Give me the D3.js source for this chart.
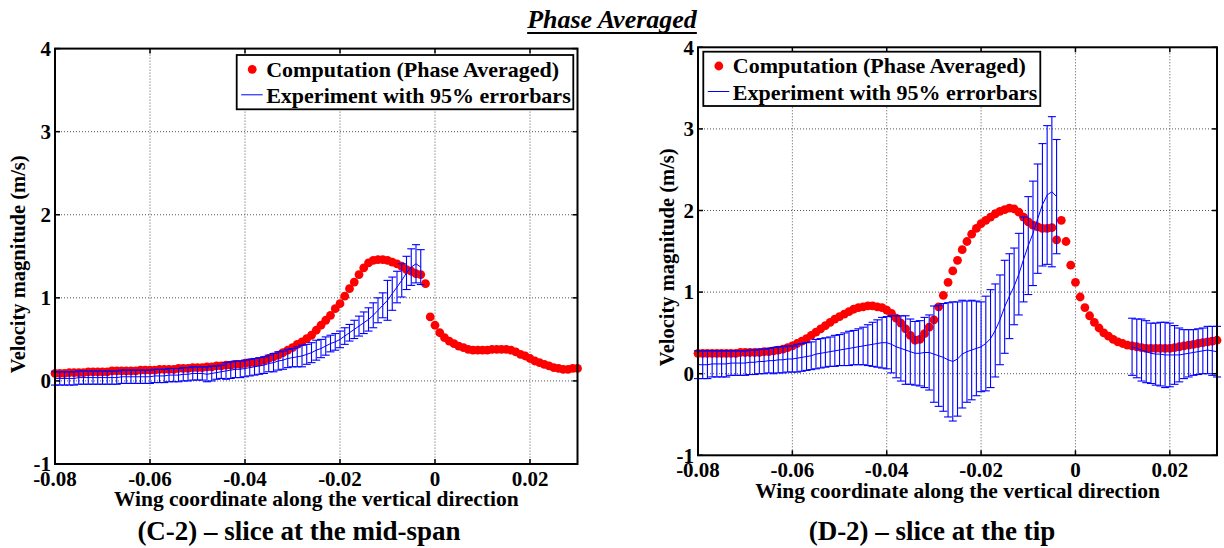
<!DOCTYPE html>
<html>
<head>
<meta charset="utf-8">
<script src="https://cdn.jsdelivr.net/npm/d3@7"></script>
<style>
  body { margin: 0; background: #fff; }
  svg { display: block; }
</style>
</head>
<body>
<svg id="fig" width="1224" height="548"></svg>
<script>
// Axis ticks
const xTicks = [-0.08, -0.06, -0.04, -0.02, 0, 0.02];
const yTicks = [-1, 0, 1, 2, 3, 4];

// Computation grid (same for both slices)
const compX = [
  -0.080, -0.079, -0.078, -0.077, -0.076, -0.075, -0.074, -0.073, -0.072, -0.071,
  -0.070, -0.069, -0.068, -0.067, -0.066, -0.065, -0.064, -0.063, -0.062, -0.061,
  -0.060, -0.059, -0.058, -0.057, -0.056, -0.055, -0.054, -0.053, -0.052, -0.051,
  -0.050, -0.049, -0.048, -0.047, -0.046, -0.045, -0.044, -0.043, -0.042, -0.041,
  -0.040, -0.039, -0.038, -0.037, -0.036, -0.035, -0.034, -0.033, -0.032, -0.031,
  -0.030, -0.029, -0.028, -0.027, -0.026, -0.025, -0.024, -0.023, -0.022, -0.021,
  -0.020, -0.019, -0.018, -0.017, -0.016, -0.015, -0.014, -0.013, -0.012, -0.011,
  -0.010, -0.009, -0.008, -0.007, -0.006, -0.005, -0.004, -0.003, -0.002, -0.001,
  0.000, 0.001, 0.002, 0.003, 0.004, 0.005, 0.006, 0.007, 0.008, 0.009,
  0.010, 0.011, 0.012, 0.013, 0.014, 0.015, 0.016, 0.017, 0.018, 0.019,
  0.020, 0.021, 0.022, 0.023, 0.024, 0.025, 0.026, 0.027, 0.028, 0.029, 0.030
];

// (C-2) mid-span
const midCompV = [
  0.09, 0.09, 0.09, 0.10, 0.10, 0.10, 0.10, 0.11, 0.11, 0.11,
  0.11, 0.11, 0.12, 0.12, 0.12, 0.12, 0.12, 0.12, 0.13, 0.13,
  0.13, 0.13, 0.14, 0.14, 0.14, 0.14, 0.15, 0.15, 0.15, 0.16,
  0.16, 0.16, 0.17, 0.17, 0.18, 0.18, 0.19, 0.19, 0.20, 0.20,
  0.21, 0.22, 0.22, 0.23, 0.25, 0.27, 0.29, 0.31, 0.34, 0.37,
  0.40, 0.44, 0.47, 0.51, 0.55, 0.61, 0.67, 0.73, 0.79, 0.87,
  0.93, 1.02, 1.11, 1.19, 1.28, 1.36, 1.42, 1.45, 1.46, 1.46,
  1.45, 1.43, 1.41, 1.38, 1.34, 1.32, 1.29, 1.28, 1.17, 0.77,
  0.67, 0.58, 0.52, 0.48, 0.45, 0.42, 0.40, 0.38, 0.37, 0.37,
  0.37, 0.37, 0.38, 0.38, 0.38, 0.38, 0.37, 0.35, 0.32, 0.30,
  0.27, 0.24, 0.22, 0.20, 0.18, 0.16, 0.15, 0.14, 0.14, 0.15, 0.15
];
const midExpX = [
  -0.080, -0.079, -0.078, -0.077, -0.076, -0.075, -0.074, -0.073, -0.072, -0.071,
  -0.070, -0.069, -0.068, -0.067, -0.066, -0.065, -0.064, -0.063, -0.062, -0.061,
  -0.060, -0.059, -0.058, -0.057, -0.056, -0.055, -0.054, -0.053, -0.052, -0.051,
  -0.050, -0.049, -0.048, -0.047, -0.046, -0.045, -0.044, -0.043, -0.042, -0.041,
  -0.040, -0.039, -0.038, -0.037, -0.036, -0.035, -0.034, -0.033, -0.032, -0.031,
  -0.030, -0.029, -0.028, -0.027, -0.026, -0.025, -0.024, -0.023, -0.022, -0.021,
  -0.020, -0.019, -0.018, -0.017, -0.016, -0.015, -0.014, -0.013, -0.012, -0.011,
  -0.010, -0.009, -0.008, -0.007, -0.006, -0.005, -0.004, -0.003
];
const midExpMean = [
  0.03, 0.03, 0.03, 0.03, 0.03, 0.04, 0.04, 0.04, 0.04, 0.04,
  0.04, 0.04, 0.04, 0.04, 0.05, 0.05, 0.05, 0.05, 0.05, 0.05,
  0.05, 0.06, 0.06, 0.06, 0.07, 0.07, 0.07, 0.08, 0.08, 0.09,
  0.09, 0.09, 0.08, 0.09, 0.10, 0.11, 0.12, 0.13, 0.14, 0.14,
  0.15, 0.16, 0.17, 0.18, 0.19, 0.21, 0.22, 0.24, 0.25, 0.27,
  0.28, 0.29, 0.30, 0.32, 0.34, 0.37, 0.39, 0.42, 0.45, 0.47,
  0.50, 0.54, 0.58, 0.62, 0.66, 0.70, 0.74, 0.79, 0.85, 0.91,
  0.97, 1.05, 1.13, 1.21, 1.30, 1.37, 1.41, 1.37
];
const midExpErr = [
  0.08, 0.08, 0.08, 0.08, 0.08, 0.08, 0.08, 0.08, 0.08, 0.08,
  0.08, 0.08, 0.08, 0.08, 0.08, 0.08, 0.08, 0.08, 0.08, 0.08,
  0.08, 0.08, 0.08, 0.08, 0.08, 0.08, 0.08, 0.08, 0.08, 0.08,
  0.08, 0.08, 0.09, 0.09, 0.08, 0.08, 0.10, 0.10, 0.10, 0.10,
  0.10, 0.10, 0.10, 0.10, 0.10, 0.10, 0.11, 0.11, 0.11, 0.11,
  0.11, 0.12, 0.13, 0.12, 0.12, 0.12, 0.11, 0.11, 0.10, 0.10,
  0.10, 0.10, 0.10, 0.11, 0.12, 0.13, 0.14, 0.15, 0.15, 0.15,
  0.24, 0.20, 0.19, 0.20, 0.20, 0.22, 0.23, 0.21
];

// (D-2) tip
const tipCompV = [
  0.25, 0.25, 0.25, 0.25, 0.25, 0.25, 0.25, 0.25, 0.25, 0.26,
  0.26, 0.26, 0.26, 0.26, 0.27, 0.27, 0.28, 0.29, 0.30, 0.32,
  0.34, 0.37, 0.40, 0.43, 0.47, 0.51, 0.55, 0.59, 0.63, 0.67,
  0.70, 0.73, 0.76, 0.79, 0.81, 0.82, 0.83, 0.83, 0.82, 0.81,
  0.78, 0.74, 0.68, 0.62, 0.55, 0.47, 0.41, 0.42, 0.49, 0.57,
  0.66, 0.82, 0.96, 1.12, 1.26, 1.39, 1.52, 1.62, 1.71, 1.78,
  1.84, 1.88, 1.92, 1.96, 1.99, 2.01, 2.03, 2.02, 1.98, 1.92,
  1.86, 1.82, 1.80, 1.78, 1.78, 1.79, 1.64, 1.88, 1.62, 1.33,
  1.12, 0.94, 0.81, 0.71, 0.63, 0.56, 0.50, 0.46, 0.42, 0.39,
  0.37, 0.35, 0.34, 0.33, 0.32, 0.31, 0.31, 0.31, 0.31, 0.31,
  0.31, 0.32, 0.33, 0.34, 0.35, 0.36, 0.37, 0.38, 0.39, 0.40, 0.41
];
const tipExpX = [
  -0.080, -0.079, -0.078, -0.077, -0.076, -0.075, -0.074, -0.073, -0.072, -0.071,
  -0.070, -0.069, -0.068, -0.067, -0.066, -0.065, -0.064, -0.063, -0.062, -0.061,
  -0.060, -0.059, -0.058, -0.057, -0.056, -0.055, -0.054, -0.053, -0.052, -0.051,
  -0.050, -0.049, -0.048, -0.047, -0.046, -0.045, -0.044, -0.043, -0.042, -0.041,
  -0.040, -0.039, -0.038, -0.037, -0.036, -0.035, -0.034, -0.033, -0.032, -0.031,
  -0.030, -0.029, -0.028, -0.027, -0.026, -0.025, -0.024, -0.023, -0.022, -0.021,
  -0.020, -0.019, -0.018, -0.017, -0.016, -0.015, -0.014, -0.013, -0.012, -0.011,
  -0.010, -0.009, -0.008, -0.007, -0.006, -0.005, -0.004,
  0.012, 0.013, 0.014, 0.015, 0.016, 0.017, 0.018, 0.019, 0.020, 0.021,
  0.022, 0.023, 0.024, 0.025, 0.026, 0.027, 0.028, 0.029, 0.030
];
const tipExpMean = [
  0.11, 0.11, 0.11, 0.12, 0.12, 0.12, 0.12, 0.13, 0.13, 0.13,
  0.13, 0.14, 0.14, 0.15, 0.15, 0.16, 0.16, 0.17, 0.17, 0.18,
  0.18, 0.19, 0.20, 0.21, 0.22, 0.24, 0.25, 0.26, 0.27, 0.28,
  0.29, 0.30, 0.31, 0.32, 0.33, 0.34, 0.35, 0.36, 0.37, 0.38,
  0.38, 0.36, 0.33, 0.31, 0.29, 0.27, 0.25, 0.25, 0.26, 0.26,
  0.24, 0.22, 0.20, 0.17, 0.15, 0.18, 0.24, 0.27, 0.29, 0.31,
  0.33, 0.37, 0.43, 0.53, 0.66, 0.82, 0.95, 1.07, 1.22, 1.40,
  1.57, 1.72, 1.90, 2.07, 2.19, 2.23, 2.17,
  0.33, 0.31, 0.29, 0.27, 0.25, 0.24, 0.24, 0.23, 0.23, 0.23,
  0.23, 0.24, 0.25, 0.26, 0.27, 0.28, 0.29, 0.28, 0.27
];
const tipExpErr = [
  0.17, 0.17, 0.17, 0.16, 0.16, 0.16, 0.16, 0.15, 0.15, 0.15,
  0.15, 0.15, 0.15, 0.15, 0.15, 0.15, 0.16, 0.16, 0.16, 0.16,
  0.16, 0.17, 0.17, 0.17, 0.17, 0.18, 0.18, 0.18, 0.18, 0.19,
  0.19, 0.20, 0.21, 0.21, 0.22, 0.23, 0.25, 0.27, 0.29, 0.31,
  0.32, 0.35, 0.38, 0.40, 0.42, 0.40, 0.39, 0.40, 0.43, 0.46,
  0.59, 0.62, 0.66, 0.70, 0.73, 0.70, 0.66, 0.62, 0.61, 0.58,
  0.55, 0.58, 0.60, 0.57, 0.55, 0.57, 0.52, 0.47, 0.50, 0.52,
  0.60, 0.64, 0.67, 0.75, 0.85, 0.92, 0.70,
  0.35, 0.36, 0.38, 0.38, 0.37, 0.38, 0.39, 0.40, 0.39, 0.36,
  0.33, 0.30, 0.29, 0.28, 0.28, 0.28, 0.29, 0.30, 0.31
];

const legendLabels = ["Computation (Phase Averaged)", "Experiment with 95% errorbars"];
const xLabel = "Wing coordinate along the vertical direction";
const yLabel = "Velocity magnitude (m/s)";

const serif = "'Liberation Serif', 'Times New Roman', Tinos, 'Nimbus Roman', 'DejaVu Serif', serif";
const svg = d3.select("#fig")
    .attr("font-family", serif)
    .attr("font-weight", "bold");

function txt(sel) {
    return sel.attr("font-family", serif).attr("font-weight", "bold").attr("fill", "#000");
}

// Title
const title = txt(svg.append("text"))
    .attr("x", 612)
    .attr("y", 28)
    .attr("text-anchor", "middle")
    .attr("font-size", 26)
    .attr("font-style", "italic")
    .text("Phase Averaged");
const tw = title.node().getComputedTextLength();
svg.append("line")
    .attr("x1", 612 - tw / 2).attr("x2", 612 + tw / 2)
    .attr("y1", 33).attr("y2", 33)
    .attr("stroke", "#000").attr("stroke-width", 2);

const panels = [
    {
        box: { left: 55, right: 577.5, top: 48.6, bottom: 464 },
        compV: midCompV, expX: midExpX, expMean: midExpMean, expErr: midExpErr,
        legend: { x: 236.7, y: 55, w: 336.6, h: 54.3 },
        caption: "(C-2) \u2013 slice at the mid-span", capX: 299,
        yLabelX: 25, yLabelShift: 8, xLabelY: 506
    },
    {
        box: { left: 698, right: 1217, top: 47.3, bottom: 455.3 },
        compV: tipCompV, expX: tipExpX, expMean: tipExpMean, expErr: tipExpErr,
        legend: { x: 703.3, y: 51.7, w: 337, h: 54.3 },
        caption: "(D-2) \u2013 slice at the tip", capX: 932,
        yLabelX: 674, yLabelShift: 6, xLabelY: 498
    }
];

panels.forEach(p => drawPanel(p));

function drawPanel(p) {
    const b = p.box;
    const x = d3.scaleLinear().domain([-0.08, 0.03]).range([b.left, b.right]);
    const y = d3.scaleLinear().domain([-1, 4]).range([b.bottom, b.top]);
    const g = svg.append("g");

    g.append("rect")
        .attr("x", b.left).attr("y", b.top)
        .attr("width", b.right - b.left).attr("height", b.bottom - b.top)
        .attr("fill", "#fff");

    // dotted grid
    g.append("g").selectAll("line")
        .data(xTicks.filter(t => t > -0.08))
        .join("line")
        .attr("x1", d => x(d)).attr("x2", d => x(d))
        .attr("y1", b.top).attr("y2", b.bottom)
        .attr("stroke", "#555").attr("stroke-width", 1)
        .attr("stroke-dasharray", "1,2");
    g.append("g").selectAll("line")
        .data(yTicks.filter(t => t > -1 && t < 4))
        .join("line")
        .attr("x1", b.left).attr("x2", b.right)
        .attr("y1", d => y(d)).attr("y2", d => y(d))
        .attr("stroke", "#555").attr("stroke-width", 1)
        .attr("stroke-dasharray", "1,2");

    // computation dots
    g.append("g").selectAll("circle")
        .data(compX.map((d, i) => [d, p.compV[i]]))
        .join("circle")
        .attr("cx", d => x(d[0]))
        .attr("cy", d => y(d[1]))
        .attr("r", 4.4)
        .attr("fill", "#ff0000");

    // experiment error bars
    const exp = p.expX.map((d, i) => ({ x: d, m: p.expMean[i], e: p.expErr[i] }));
    const eb = g.append("g").attr("stroke", "#0000ff").attr("stroke-width", 1.1);
    exp.forEach(d => {
        const cx = x(d.x), y1 = y(d.m + d.e), y2 = y(d.m - d.e);
        eb.append("line").attr("x1", cx).attr("x2", cx).attr("y1", y1).attr("y2", y2);
        eb.append("line").attr("x1", cx - 4).attr("x2", cx + 4).attr("y1", y1).attr("y2", y1);
        eb.append("line").attr("x1", cx - 4).attr("x2", cx + 4).attr("y1", y2).attr("y2", y2);
    });

    // experiment mean line, broken where measurements are missing
    const segments = [];
    let seg = [];
    exp.forEach((d, i) => {
        if (i > 0 && d.x - exp[i - 1].x > 0.0015) { segments.push(seg); seg = []; }
        seg.push(d);
    });
    segments.push(seg);
    segments.forEach(s => {
        g.append("path")
            .attr("d", d3.line().x(d => x(d.x)).y(d => y(d.m))(s))
            .attr("fill", "none")
            .attr("stroke", "#0000ff")
            .attr("stroke-width", 1);
    });

    // box and inward ticks
    g.append("rect")
        .attr("x", b.left).attr("y", b.top)
        .attr("width", b.right - b.left).attr("height", b.bottom - b.top)
        .attr("fill", "none").attr("stroke", "#000").attr("stroke-width", 2);
    const tk = g.append("g").attr("stroke", "#000").attr("stroke-width", 1.5);
    xTicks.forEach(t => {
        tk.append("line").attr("x1", x(t)).attr("x2", x(t)).attr("y1", b.bottom).attr("y2", b.bottom - 5);
        tk.append("line").attr("x1", x(t)).attr("x2", x(t)).attr("y1", b.top).attr("y2", b.top + 5);
    });
    yTicks.forEach(t => {
        tk.append("line").attr("x1", b.left).attr("x2", b.left + 5).attr("y1", y(t)).attr("y2", y(t));
        tk.append("line").attr("x1", b.right).attr("x2", b.right - 5).attr("y1", y(t)).attr("y2", y(t));
    });

    // tick labels
    txt(g.append("g").selectAll("text")
        .data(xTicks)
        .join("text"))
        .attr("x", d => x(d))
        .attr("y", b.bottom + 22)
        .attr("text-anchor", "middle")
        .attr("font-size", 21)
        .text(d => d === 0 ? "0" : d3.format(".2f")(d).replace("\u2212", "-"));
    txt(g.append("g").selectAll("text")
        .data(yTicks)
        .join("text"))
        .attr("x", b.left - 4)
        .attr("y", d => y(d))
        .attr("dy", "0.35em")
        .attr("text-anchor", "end")
        .attr("font-size", 21)
        .text(d => String(d));

    // axis labels
    txt(g.append("text"))
        .attr("x", (b.left + b.right) / 2)
        .attr("y", p.xLabelY)
        .attr("text-anchor", "middle")
        .attr("font-size", 21.5)
        .text(xLabel);
    txt(g.append("text"))
        .attr("transform", `translate(${p.yLabelX},${(b.top + b.bottom) / 2 + p.yLabelShift}) rotate(-90)`)
        .attr("text-anchor", "middle")
        .attr("font-size", 20.5)
        .text(yLabel);

    // caption
    txt(g.append("text"))
        .attr("x", p.capX)
        .attr("y", 540)
        .attr("text-anchor", "middle")
        .attr("font-size", 27)
        .text(p.caption);

    // legend
    const L = p.legend;
    const lg = g.append("g").attr("transform", `translate(${L.x},${L.y})`);
    lg.append("rect")
        .attr("width", L.w).attr("height", L.h)
        .attr("fill", "#fff").attr("stroke", "#000").attr("stroke-width", 1.8);
    lg.append("circle").attr("cx", 15.5).attr("cy", 14.3).attr("r", 4.4).attr("fill", "#ff0000");
    lg.append("line").attr("x1", 4.5).attr("x2", 26).attr("y1", 39.8).attr("y2", 39.8)
        .attr("stroke", "#0000ff").attr("stroke-width", 1);
    txt(lg.append("text")).attr("x", 29.5).attr("y", 21.8).attr("font-size", 22).text(legendLabels[0]);
    txt(lg.append("text")).attr("x", 29.5).attr("y", 48.3).attr("font-size", 22).text(legendLabels[1]);
}
</script>
</body>
</html>
